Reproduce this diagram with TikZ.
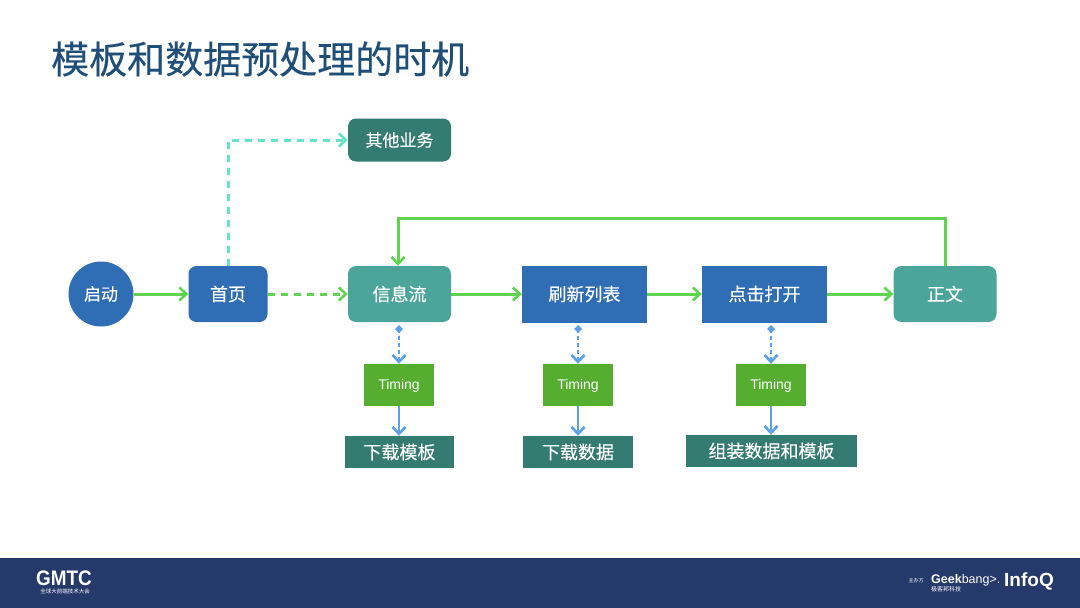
\documentclass[tikz,border=0pt]{standalone}
\usepackage{fontspec}
\setmainfont{Liberation Sans}
\newfontfamily\cjk[FakeBold=0.25]{Noto Sans CJK SC}
\newfontfamily\cjklight{Noto Sans CJK SC}
\usetikzlibrary{arrows.meta,calc}
\definecolor{titleblue}{HTML}{1F4E79}
\definecolor{bannerblue}{HTML}{253A6B}
\definecolor{boxblue}{HTML}{2F6DB5}
\definecolor{boxteal}{HTML}{4BA59B}
\definecolor{boxdark}{HTML}{347B72}
\definecolor{timinggreen}{HTML}{55AE2F}
\definecolor{flowgreen}{HTML}{60D450}
\definecolor{flowmint}{HTML}{66E2C6}
\definecolor{flowblue}{HTML}{5AA0EA}
\tikzset{
  x=1pt,y=-1pt,
  box/.style={text=white,inner sep=0pt,font=\cjk\fontsize{18}{18}\selectfont,minimum width=#1},
  blue box/.style={box=125pt,fill=boxblue,minimum height=57pt},
  teal box/.style={box=103pt,fill=boxteal,rounded corners=8pt,minimum height=56pt},
  timing box/.style={box=70pt,fill=timinggreen,minimum height=42pt,font=\fontsize{14}{14}\selectfont},
  result box/.style={box=#1,fill=boxdark,minimum height=32pt},
  chev/.style={-{Straight Barb[length=7pt,width=13pt,line width=2.6pt]}},
  flow/.style={draw=flowgreen,line width=3pt,chev},
  flow dash/.style={flow,dash pattern=on 7pt off 6pt},
  mint dash/.style={draw=flowmint,line width=3pt,chev,dash pattern=on 7pt off 6pt},
  timing in/.style={draw=flowblue,line width=2.4pt,dash pattern=on 4pt off 3pt,chev},
  timing out/.style={draw=flowblue,line width=2.4pt,chev},
  foot/.style={text=white,inner sep=0pt},
}
\begin{document}
\begin{tikzpicture}
\useasboundingbox (0,0) rectangle (1080,608);
\fill[white] (0,0) rectangle (1080,608);
\fill[bannerblue] (0,558) rectangle (1080,608);
\node[anchor=west,inner sep=0pt,text=titleblue,font=\cjk\fontsize{38}{38}\selectfont] (title) at (51,59) {模板和数据预处理的时机};

\node[circle,fill=boxblue,text=white,inner sep=0pt,minimum size=65pt,font=\cjk\fontsize{17}{17}\selectfont] (start) at (101,294) {启动};
\node[box=79pt,fill=boxblue,rounded corners=8pt,minimum height=56pt] (home) at (228,294) {首页};
\node[teal box] (feed) at (399.5,294) {信息流};
\node[blue box] (refresh) at (584.5,294) {刷新列表};
\node[blue box] (click) at (764.5,294) {点击打开};
\node[teal box] (body) at (945,294) {正文};
\node[box=103pt,fill=boxdark,rounded corners=8pt,minimum height=43pt,font=\cjk\fontsize{17}{17}\selectfont] (other) at (399.5,140) {其他业务};

\node[timing box,text depth=4pt,text height=10pt] (t1) at (399,385) {\raisebox{-1.5pt}{Timing}};
\node[timing box,text depth=4pt,text height=10pt] (t2) at (578,385) {\raisebox{-1.5pt}{Timing}};
\node[timing box,text depth=4pt,text height=10pt] (t3) at (771,385) {\raisebox{-1.5pt}{Timing}};
\node[result box=109pt] (r1) at (399.5,452) {下载模板};
\node[result box=110pt] (r2) at (578,452) {下载数据};
\node[result box=171pt] (r3) at (771.5,451) {组装数据和模板};

\coordinate (d1) at (399,329);
\coordinate (d2) at (578,329);
\coordinate (d3) at (771,329);

\draw[flow] (start) -- (home);
\draw[flow dash] (home) -- (feed);
\draw[flow] (feed) -- (refresh);
\draw[flow] (refresh) -- (click);
\draw[flow] (click) -- (body);
\draw[mint dash] (home.north) |- (other.west);
\draw[flow] (body.north) -- ++(0,-47) -| (feed.north -| 398,266);

\foreach \d/\t/\r in {d1/t1/r1,d2/t2/r2,d3/t3/r3}{
  \fill[flowblue] ($(\d)+(0,-4)$) -- ($(\d)+(4,0)$) -- ($(\d)+(0,4)$) -- ($(\d)+(-4,0)$) -- cycle;
  \draw[timing in] (\d) -- (\d |- \t.north);
  \draw[timing out] (\t.south) -- (\t.south |- \r.north);
}

% footer wordmarks
\node[foot,font=\bfseries\fontsize{21}{21}\selectfont,text height=14pt,text depth=0pt] (gmtc) at (64,578) {\scalebox{0.9}[1]{GMTC}};
\node[foot,font=\cjklight\fontsize{5.5}{5.5}\selectfont] (gmtcsub) at (65,591) {全球大前端技术大会};
\node[foot,font=\cjklight\fontsize{5}{5}\selectfont] (host) at (916,581) {主办方};
\node[foot,anchor=west,font=\fontsize{12.5}{12.5}\selectfont] (geek) at (931,580) {\textbf{Geek}bang>.};
\node[foot,anchor=west,font=\cjklight\fontsize{6}{6}\selectfont] (geeksub) at (931,589) {极客邦科技};
\node[foot,anchor=west,font=\bfseries\fontsize{19}{19}\selectfont] (infoq) at (1004,581) {InfoQ};
\end{tikzpicture}
\end{document}
